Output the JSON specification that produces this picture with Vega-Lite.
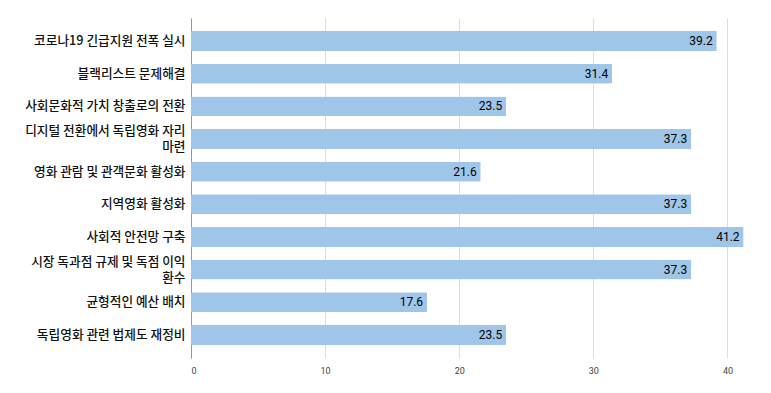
{
  "$schema": "https://vega.github.io/schema/vega-lite/v6.json",
  "autosize": {"type": "none"},
  "padding": {"left": 191, "top": 18, "right": 10, "bottom": 35},
  "width": 570,
  "height": 340,
  "background": "white",
  "data": {
    "values": [
      {"item": "코로나19 긴급지원 전폭 실시", "value": 39.2},
      {"item": "블랙리스트 문제해결", "value": 31.4},
      {"item": "사회문화적 가치 창출로의 전환", "value": 23.5},
      {"item": "디지털 전환에서 독립영화 자리 마련", "value": 37.3},
      {"item": "영화 관람 및 관객문화 활성화", "value": 21.6},
      {"item": "지역영화 활성화", "value": 37.3},
      {"item": "사회적 안전망 구축", "value": 41.2},
      {"item": "시장 독과점 규제 및 독점 이익 환수", "value": 37.3},
      {"item": "균형적인 예산 배치", "value": 17.6},
      {"item": "독립영화 관련 법제도 재정비", "value": 23.5}
    ]
  },
  "encoding": {
    "y": {
      "field": "item",
      "type": "nominal",
      "sort": null,
      "scale": {"paddingInner": 0.39, "paddingOuter": 0.4},
      "axis": {
        "title": null,
        "ticks": false,
        "domain": true,
        "domainColor": "#999999",
        "labelFont": "Noto Sans CJK KR",
        "labelFontSize": 12.7,
        "labelFontWeight": 500,
        "labelColor": "#111111",
        "labelPadding": 6,
        "labelLimit": 300,
        "labelLineHeight": 16,
        "labelOffset": {"condition": {"test": "datum.value == '디지털 전환에서 독립영화 자리 마련' || datum.value == '시장 독과점 규제 및 독점 이익 환수'", "value": -8}, "value": 0},
        "labelExpr": "datum.label == '디지털 전환에서 독립영화 자리 마련' ? ['디지털 전환에서 독립영화 자리', '마련'] : datum.label == '시장 독과점 규제 및 독점 이익 환수' ? ['시장 독과점 규제 및 독점 이익', '환수'] : datum.label"
      }
    },
    "x": {
      "field": "value",
      "type": "quantitative",
      "scale": {"domain": [0, 42.5], "nice": false},
      "axis": {
        "title": null,
        "values": [0, 10, 20, 30, 40],
        "domain": false,
        "ticks": false,
        "grid": true,
        "gridColor": "#dddddd",
        "labelFont": "Roboto",
        "labelFontSize": 9,
        "labelColor": "#444444",
        "labelPadding": 8
      }
    }
  },
  "layer": [
    {"mark": {"type": "bar", "color": "#9fc5e8", "cornerRadius": 1}},
    {
      "mark": {"type": "text", "align": "right", "dx": -4, "font": "Roboto", "fontSize": 12, "color": "#000000"},
      "encoding": {"text": {"field": "value", "type": "quantitative", "format": ".1f"}}
    }
  ],
  "config": {"view": {"stroke": null}}
}
